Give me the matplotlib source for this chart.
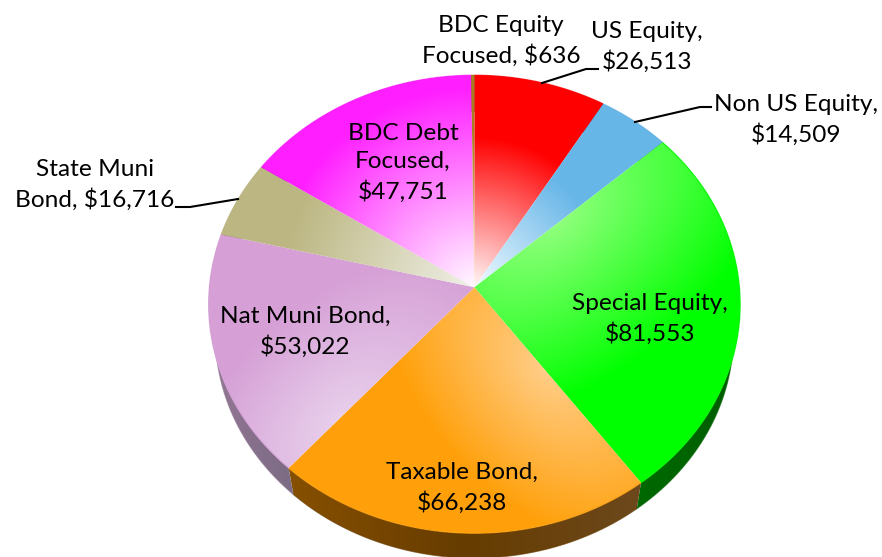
import numpy as np
import matplotlib
matplotlib.use("Agg")
import matplotlib.pyplot as plt
from matplotlib.patches import Polygon

plt.rcParams['font.family'] = ['Lato', 'DejaVu Sans']

categories = ["US Equity", "Non US Equity", "Special Equity", "Taxable Bond",
              "Nat Muni Bond", "State Muni Bond", "BDC Debt Focused", "BDC Equity Focused"]
values = [26513, 14509, 81553, 66238, 53022, 16716, 47751, 636]
label_lines = [("US Equity,", "{}"), ("Non US Equity,", "{}"), ("Special Equity,", "{}"),
               ("Taxable Bond,", "{}"), ("Nat Muni Bond,", "{}"), ("State Muni", "Bond, {}"),
               ("BDC Debt", "Focused,", "{}"), ("BDC Equity", "Focused, {}")]
label_pos = [(647, 47), (796, 120), (650, 319), (462, 488),
             (305, 332), (95, 185), (403, 163), (501, 41)]
base_colors = [(255, 0, 0), (103, 182, 232), (0, 255, 0), (255, 160, 10),
               (214, 160, 214), (188, 183, 130), (255, 30, 255), (170, 125, 30)]
light_colors = [(255, 248, 248), (240, 250, 255), (150, 255, 130), (255, 205, 135),
                (232, 208, 236), (240, 240, 232), (255, 250, 255), (255, 230, 180)]
grad_center = [(474, 287), (474, 287), (552, 218), (545, 370),
               (340, 420), (474, 287), (474, 287), (474, 287)]
grad_radius = [150, 135, 165, 125, 115, 190, 200, 150]
grad_stretch = [1, 1, 1.6, 1.6, 1.7, 1, 1, 1]
side_colors = [[(150, 0, 0)] * 3, [(60, 110, 140)] * 3,
               [(0, 105, 0), (0, 100, 0), (0, 90, 0)],
               [(135, 80, 0), (102, 60, 0), (108, 72, 28)],
               [(152, 122, 152), (135, 112, 140), (124, 108, 132)],
               [(110, 105, 75)] * 3, [(150, 20, 150)] * 3, [(100, 75, 20)] * 3]
leaders = {"US Equity": [(542, 83), (586, 69), (598, 69)],
           "Non US Equity": [(635, 122), (700, 107), (711, 107)],
           "State Muni Bond": [(238, 199), (190, 207), (176, 207)]}

W, H = 882, 557
CX, CY, BX, BY, K = 474.4, 287.3, 265.0, 227.7, 0.074
DEPTH, SHRINK = 31.0, 0.975

fig = plt.figure(figsize=(W / 100, H / 100), dpi=100)
ax = fig.add_axes([0, 0, 1, 1])
ax.set_xlim(0, W)
ax.set_ylim(H, 0)
ax.axis("off")


def project(theta):
    s, c = np.sin(theta), np.cos(theta)
    d = 1 + K * c
    return BX * s / d, -BY * c / d


yy, xx = np.mgrid[0:H, 0:W] + 0.5
fractions = np.cumsum([0] + values) / sum(values)
angles = 2 * np.pi * fractions


def image_from(rgb, clip_xy, z):
    im = ax.imshow(rgb, extent=(0, W, H, 0), interpolation="bilinear", aspect="auto", zorder=z)
    patch = Polygon(clip_xy, closed=True, transform=ax.transData, fill=False, edgecolor="none")
    ax.add_patch(patch)
    im.set_clip_path(patch)


arcs = []
for a0, a1 in zip(angles[:-1], angles[1:]):
    th = np.linspace(a0, a1, max(8, int((a1 - a0) * 120)))
    arcs.append(project(th))

# side wall first, hidden where the top face covers it
for i, (dx, dy) in enumerate(arcs):
    top = np.column_stack([CX + dx, CY + dy])
    bot = np.column_stack([CX + SHRINK * dx, CY + SHRINK * dy + DEPTH])
    poly = np.vstack([top, bot[::-1]])
    x0, x1 = poly[:, 0].min(), poly[:, 0].max()
    stops = np.array(side_colors[i], float) / 255
    t = np.clip((xx - x0) / max(x1 - x0, 1), 0, 1)
    rgb = np.dstack([np.interp(t, [0, 0.5, 1], stops[:, k]) for k in range(3)])
    image_from(rgb, poly, 1)
    ax.plot(bot[:, 0], bot[:, 1], color=stops[1], lw=0.8, alpha=0.6, zorder=1.1)

# top faces
for i, (dx, dy) in enumerate(arcs):
    poly = np.vstack([[CX, CY], np.column_stack([CX + dx, CY + dy])])
    gx, gy = grad_center[i]
    ux, uy = dx[0], dy[0]
    norm = np.hypot(ux, uy)
    ux, uy = ux / norm, uy / norm
    along = (xx - gx) * ux + (yy - gy) * uy
    across = -(xx - gx) * uy + (yy - gy) * ux
    t = np.clip(np.hypot(along / grad_stretch[i], across) / grad_radius[i], 0, 1)[..., None]
    base = np.array(base_colors[i], float) / 255
    light = np.array(light_colors[i], float) / 255
    image_from(light * (1 - t) + base * t, poly, 2)
    ax.plot(poly[1:, 0], poly[1:, 1], color=base, lw=1.0, alpha=0.7, zorder=2.2,
            solid_capstyle="butt")

for i, name in enumerate(categories):
    if name in leaders:
        xs, ys = zip(*leaders[name])
        ax.plot(xs, ys, color="black", lw=1.5, zorder=3, solid_joinstyle="round")
    money = "${:,}".format(values[i])
    text = "\n".join(line.format(money) for line in label_lines[i])
    ax.text(*label_pos[i], text, ha="center", va="center", multialignment="center",
            fontsize=17.6, color="black", linespacing=1.42, zorder=4, parse_math=False)

fig.savefig("out.png", dpi=100, facecolor="white")
